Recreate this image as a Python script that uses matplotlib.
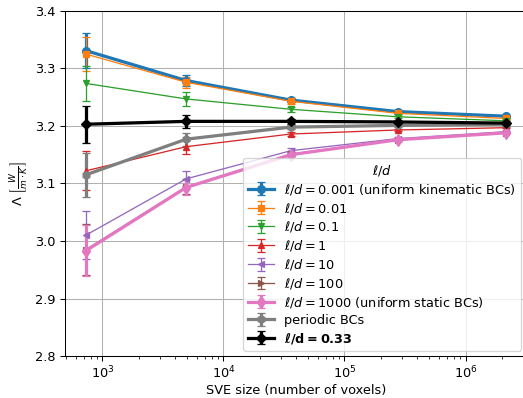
import numpy as np
import matplotlib
matplotlib.use("Agg")
import matplotlib.pyplot as plt

# SVE edge lengths 9, 17, 33, 65, 129 voxels -> number of voxels
sve_size = [9**3, 17**3, 33**3, 65**3, 129**3]

# mean conductivity and std per boundary condition
lam_0001 = [3.331, 3.279, 3.245, 3.225, 3.217]
err_0001 = [0.030, 0.010, 0.004, 0.002, 0.001]
lam_001 = [3.325, 3.276, 3.243, 3.222, 3.213]
err_001 = [0.030, 0.010, 0.004, 0.002, 0.001]
lam_01 = [3.274, 3.247, 3.229, 3.216, 3.209]
err_01 = [0.030, 0.012, 0.004, 0.002, 0.001]
lam_1 = [3.122, 3.164, 3.186, 3.193, 3.197]
err_1 = [0.034, 0.012, 0.004, 0.002, 0.001]
lam_10 = [3.010, 3.108, 3.157, 3.178, 3.190]
err_10 = [0.042, 0.013, 0.004, 0.002, 0.001]
lam_100 = [2.985, 3.094, 3.151, 3.176, 3.188]
err_100 = [0.044, 0.013, 0.004, 0.002, 0.001]
lam_1000 = [2.983, 3.093, 3.150, 3.176, 3.188]
err_1000 = [0.044, 0.013, 0.004, 0.002, 0.001]
lam_per = [3.115, 3.177, 3.198, 3.201, 3.203]
err_per = [0.038, 0.011, 0.004, 0.002, 0.001]
lam_033 = [3.203, 3.208, 3.208, 3.207, 3.205]
err_033 = [0.032, 0.011, 0.004, 0.002, 0.001]

dpi = 93
fig = plt.figure(figsize=(523 / dpi, 398 / dpi), dpi=dpi)
ax = fig.add_axes([0.124, 0.1055, 0.883, 0.867])

kw = dict(capsize=3)
ax.errorbar(sve_size, lam_0001, yerr=err_0001, marker='o', lw=2.5, ms=6, color='C0',
            label=r'$\ell/d = 0.001$ (uniform kinematic BCs)', **kw)
ax.errorbar(sve_size, lam_001, yerr=err_001, marker='s', lw=1, ms=5, color='C1',
            label=r'$\ell/d = 0.01$', **kw)
ax.errorbar(sve_size, lam_01, yerr=err_01, marker='v', lw=1, ms=5, color='C2',
            label=r'$\ell/d = 0.1$', **kw)
ax.errorbar(sve_size, lam_1, yerr=err_1, marker='^', lw=1, ms=5, color='C3',
            label=r'$\ell/d = 1$', **kw)
ax.errorbar(sve_size, lam_10, yerr=err_10, marker='<', lw=1, ms=4, color='C4',
            label=r'$\ell/d = 10$', **kw)
ax.errorbar(sve_size, lam_100, yerr=err_100, marker='>', lw=1, ms=4, color='C5',
            label=r'$\ell/d = 100$', **kw)
ax.errorbar(sve_size, lam_1000, yerr=err_1000, marker='d', lw=2.5, ms=7, color='C6',
            label=r'$\ell/d = 1000$ (uniform static BCs)', **kw)
ax.errorbar(sve_size, lam_per, yerr=err_per, marker='h', lw=2.5, ms=6, color='C7',
            label='periodic BCs', **kw)
ax.errorbar(sve_size, lam_033, yerr=err_033, marker='D', lw=2.5, ms=6, color='k',
            label=r'$\mathbf{\ell/d = 0.33}$', **kw)

ax.set_xscale('log')
ax.set_ylim(2.8, 3.4)
ax.set_yticks([2.8, 2.9, 3.0, 3.1, 3.2, 3.3, 3.4])
ax.grid(True, which='major')
ax.set_xlabel('SVE size (number of voxels)', labelpad=2)
ax.set_ylabel(r'$\Lambda\ \left[\frac{W}{m \cdot K}\right]$')
ax.legend(title=r'$\ell/d$', loc='lower right', labelspacing=0.3,
          borderaxespad=0.4)

fig.savefig('out.png', dpi=dpi)
